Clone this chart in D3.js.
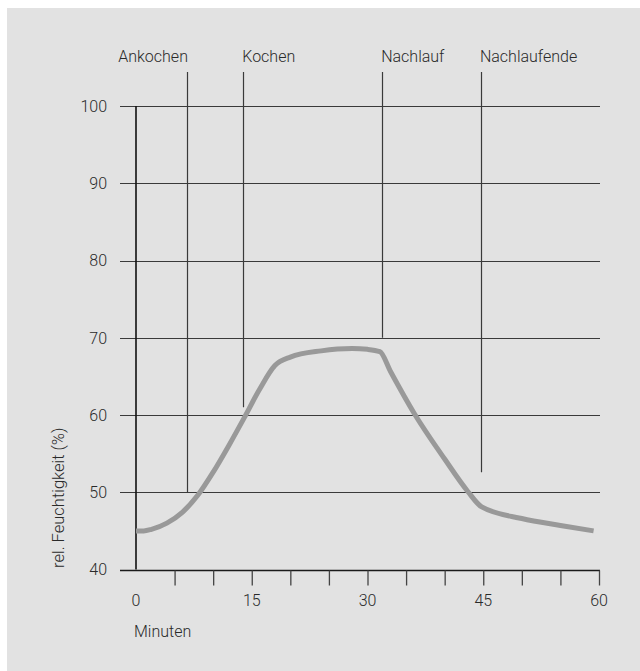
<!DOCTYPE html>
<html>
<head>
<meta charset="utf-8">
<script src="https://cdn.jsdelivr.net/npm/d3@7"></script>
<style>
  html, body { margin: 0; padding: 0; background: #fff; }
  text { font-family: Roboto, "Liberation Sans", sans-serif; fill: #2a2a2a; font-weight: 300; }
</style>
</head>
<body>
<script>
// ----- DATA -----
const minutes  = [0, 1, 2, 4, 6, 8, 10, 12, 14, 16, 18, 20, 24, 28, 30, 31.6, 33, 36, 40, 43, 44.8, 50, 55, 59.3];
const humidity = [45, 45, 45.2, 46.0, 47.4, 49.6, 52.6, 56, 59.6, 63.3, 66.4, 67.5, 68.3, 68.6, 68.5, 68.2, 65.6, 60.3, 54.3, 50.1, 48.1, 46.6, 45.7, 45];

const phaseNames = ["Ankochen", "Kochen", "Nachlauf", "Nachlaufende"];
const phaseTimes = [6.6, 13.9, 31.9, 44.7];
const phaseEnds  = [50, 61, 70, 52.6];   // lower end of each phase line (%)

const xTicks = [0, 15, 30, 45, 60];
const yTicks = [40, 50, 60, 70, 80, 90, 100];

const W = 640, H = 671;

// ----- SVG -----
const svg = d3.select("body").append("svg")
  .attr("width", W)
  .attr("height", H);

svg.append("rect") // grey panel
  .attr("x", 7).attr("y", 8)
  .attr("width", W - 7).attr("height", H - 8)
  .attr("fill", "#e2e2e2");

// ----- SCALES -----
const x = d3.scaleLinear().domain([0, 60]).range([136, 599]);
const y = d3.scaleLinear().domain([40, 100]).range([569.5, 106]);

// horizontal grid lines
svg.append("g").selectAll("line")
  .data(yTicks)
  .enter().append("line")
  .attr("x1", 120).attr("x2", 600)
  .attr("y1", d => Math.round(y(d)) + 0.5)
  .attr("y2", d => Math.round(y(d)) + 0.5)
  .attr("stroke", d => d == 40 ? "#1a1a1a" : "#3a3a3a")
  .attr("stroke-width", d => d == 40 ? 1.6 : 1.1);

// y tick labels
svg.append("g").selectAll("text")
  .data(yTicks)
  .enter().append("text")
  .attr("x", 107)
  .attr("y", d => y(d))
  .attr("dy", "0.36em")
  .attr("text-anchor", "end")
  .style("font-size", "16px")
  .text(d => d);

// x axis ticks (every 5 minutes)
const xAxis = d3.axisBottom(x)
  .tickValues(d3.range(5, 61, 5))
  .tickSize(15)
  .tickFormat("");

svg.append("g")
  .attr("transform", "translate(0," + (Math.round(y(40)) + 0.5) + ")")
  .call(xAxis)
  .call(g => g.select(".domain").remove())
  .call(g => g.selectAll(".tick line").attr("stroke", "#444").attr("stroke-width", 1.3));

// x tick labels
svg.append("g").selectAll("text")
  .data(xTicks)
  .enter().append("text")
  .attr("x", d => x(d))
  .attr("y", 606)
  .attr("text-anchor", "middle")
  .style("font-size", "16px")
  .text(d => d);

// y axis line
svg.append("line")
  .attr("x1", x(0)).attr("x2", x(0))
  .attr("y1", y(100)).attr("y2", y(40))
  .attr("stroke", "#111")
  .attr("stroke-width", 1.6);

// phase lines
svg.append("g").selectAll("line")
  .data(phaseTimes)
  .enter().append("line")
  .attr("x1", d => Math.round(x(d)) + 0.5)
  .attr("x2", d => Math.round(x(d)) + 0.5)
  .attr("y1", 72)
  .attr("y2", (d, i) => y(phaseEnds[i]))
  .attr("stroke", "#3a3a3a")
  .attr("stroke-width", 1.2);

// phase labels
svg.append("g").selectAll("text")
  .data(phaseNames)
  .enter().append("text")
  .attr("x", (d, i) => i == 0 ? x(phaseTimes[i]) + 1 : x(phaseTimes[i]) - 1)
  .attr("y", 62)
  .attr("text-anchor", (d, i) => i == 0 ? "end" : "start")
  .style("font-size", "16px")
  .text(d => d);

// ----- CURVE -----
const line = d3.line()
  .x(d => x(d[0]))
  .y(d => y(d[1]))
  .curve(d3.curveMonotoneX);

svg.append("path")
  .datum(minutes.map((m, i) => [m, humidity[i]]))
  .attr("d", line)
  .attr("fill", "none")
  .attr("stroke", "#999999")
  .attr("stroke-width", 5);

// axis titles
svg.append("text")
  .attr("transform", "translate(64,568) rotate(-90)")
  .attr("text-anchor", "start")
  .style("font-size", "16.5px")
  .text("rel. Feuchtigkeit (%)");

svg.append("text")
  .attr("x", 134)
  .attr("y", 637)
  .style("font-size", "16px")
  .text("Minuten");
</script>
</body>
</html>
